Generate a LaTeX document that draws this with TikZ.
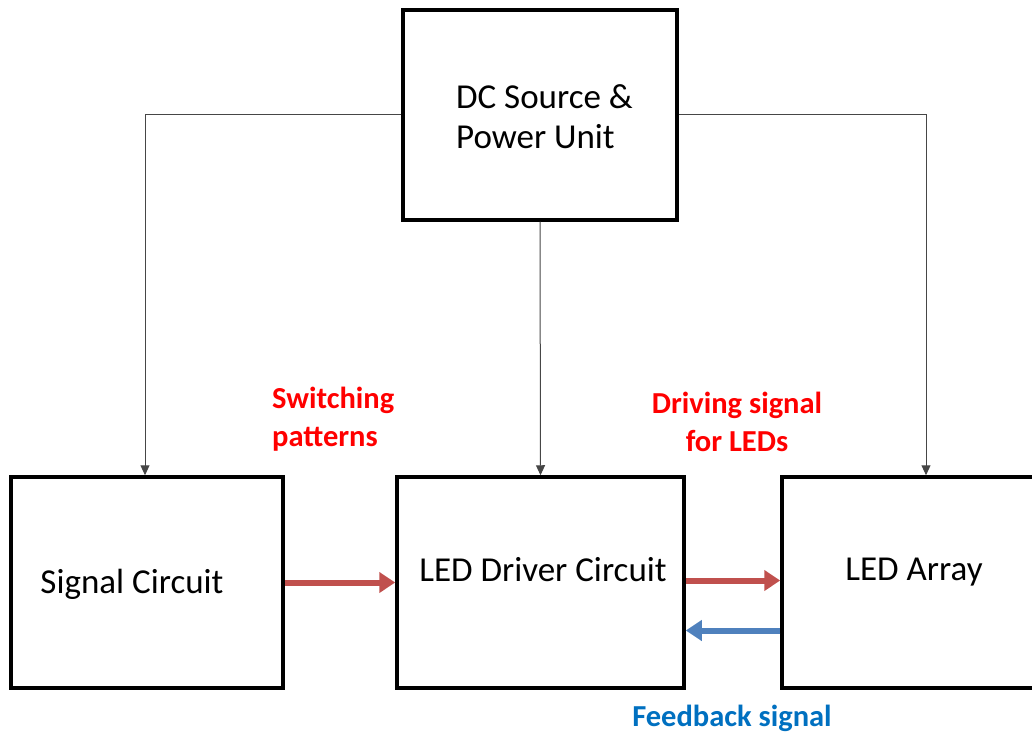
\documentclass[tikz,border=0pt]{standalone}
\usepackage{fontspec}
\setmainfont{Carlito}
\usetikzlibrary{arrows.meta,calc}
\definecolor{wire}{RGB}{70,70,70}
\definecolor{sigred}{RGB}{192,80,77}
\definecolor{fbblue}{RGB}{79,129,189}
\definecolor{lblred}{RGB}{255,0,0}
\definecolor{lblblue}{RGB}{0,112,192}

\begin{document}
\begin{tikzpicture}[x=1pt,y=-1pt,
    blk/.style={draw, line width=3.5pt, minimum width=#1, minimum height=211pt, inner sep=0pt},
    boxtxt/.style={inner sep=0pt, font=\fontsize{35}{40}\selectfont},
    lbl/.style={inner sep=0pt, font=\fontsize{30.5}{38}\selectfont\bfseries},
    wire/.style={draw=wire, line width=1pt, -{Triangle[length=10pt,width=9pt]}},
    fwd/.style={draw=sigred, line width=6pt, -{Triangle[length=16pt,width=20pt]}},
    fbk/.style={draw=fbblue, line width=6pt, -{Triangle[length=16pt,width=20pt]}}]
        \useasboundingbox (0,0) rectangle (1032,735);
        \node[blk=274pt, minimum height=210pt] (power) at (540,115) {};
        \node[blk=272pt] (signal) at (147,582.5) {};
        \node[blk=287pt] (driver) at (540.5,582.5) {};
        \node[blk=264pt] (array) at (914,582.5) {};
        \node[boxtxt, align=left] (powertxt) at (544.5,117) {DC Source \&\\Power Unit};
        \node[boxtxt] (signaltxt) at (132,584) {Signal Circuit};
        \node[boxtxt] (drivertxt) at (543,570) {LED Driver Circuit};
        \node[boxtxt] (arraytxt) at (914,572) {LED Array};
        \draw[wire] (power.west) -| ([xshift=-2pt]signal.north);
        \draw[wire] (power.south) -- (driver.north);
        \draw[wire] (power.east) -| ([xshift=12pt]array.north);
        \draw[fwd] (signal.east) -- (driver.west);
        \draw[fwd] ([yshift=2pt]driver.east) -- ([yshift=2pt]array.west);
        \draw[fbk] ([yshift=-48pt]array.west) -- ([yshift=-48pt]driver.east);
        \node[lbl, text=lblred, anchor=west, align=left] (switchlbl) at (272,419) {Switching\\patterns};
        \node[lbl, text=lblred, align=center] (drivelbl) at (737,422) {Driving signal\\for LEDs};
        \node[lbl, text=lblblue] (fblbl) at (732,718) {Feedback signal};
\end{tikzpicture}
\end{document}
